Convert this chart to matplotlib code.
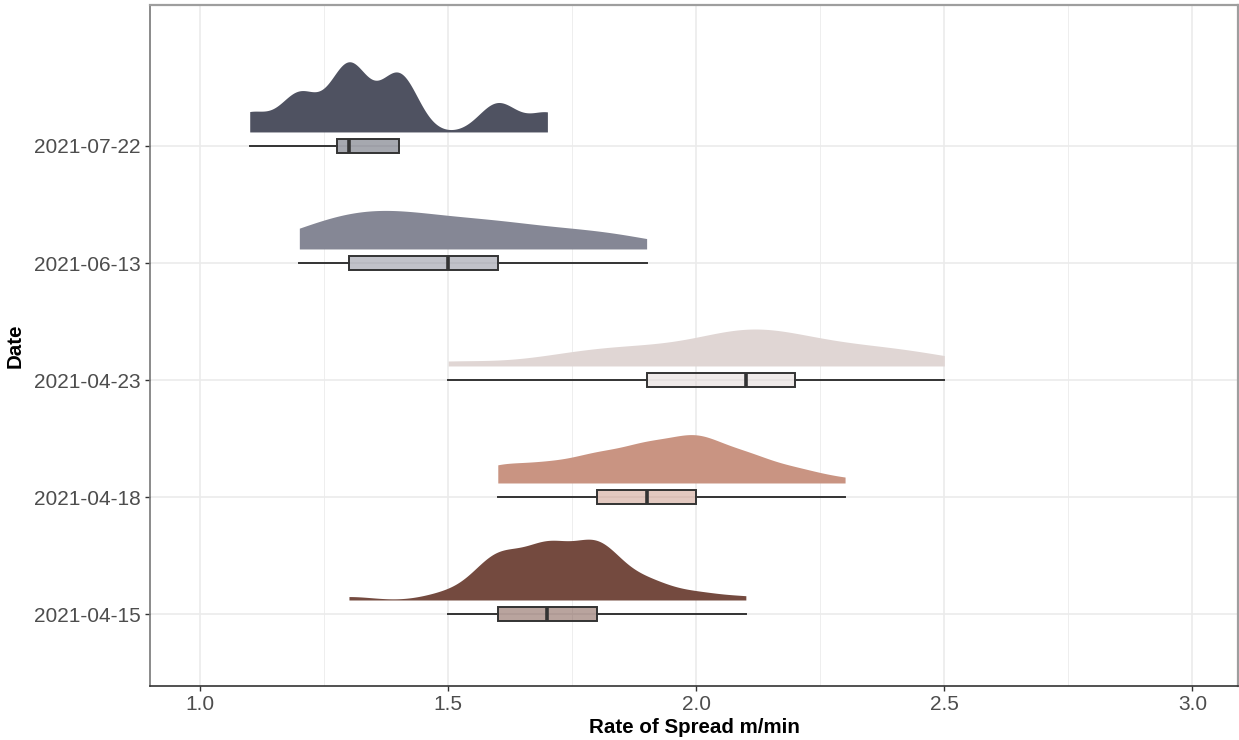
import numpy as np
import matplotlib
matplotlib.use("Agg")
import matplotlib.pyplot as plt
from matplotlib import cbook

# ---------------- data ----------------
dates = ["2021-04-15", "2021-04-18", "2021-04-23", "2021-06-13", "2021-07-22"]

# observed rate-of-spread values (m/min) and how many times each occurs
vals_0415 = [1.3, 1.5, 1.6, 1.7, 1.8, 1.9, 2.0, 2.1]
cnt_0415 = [1, 2, 12, 14, 15, 5, 2, 1]

vals_0418 = [1.6, 1.7, 1.8, 1.9, 2.0, 2.1, 2.2, 2.3]
cnt_0418 = [4, 4, 6, 8, 10, 6, 3, 1]

vals_0423 = [1.5, 1.7, 1.8, 1.9, 2.0, 2.1, 2.2, 2.3, 2.4, 2.5]
cnt_0423 = [1, 1, 2, 2, 2, 5, 3, 2, 2, 1]

vals_0613 = [1.2, 1.3, 1.4, 1.5, 1.6, 1.7, 1.8, 1.9]
cnt_0613 = [2, 4, 4, 3, 3, 2, 2, 1]

vals_0722 = [1.1, 1.2, 1.3, 1.4, 1.6, 1.7]
cnt_0722 = [2, 4, 7, 6, 3, 2]

colors = ["#744A3F", "#C99482", "#E0D6D4", "#858795", "#4F5261"]

x_ticks = [1.0, 1.5, 2.0, 2.5, 3.0]
x_label = "Rate of Spread m/min"
y_label = "Date"

groups = [
    np.repeat(vals_0415, cnt_0415),
    np.repeat(vals_0418, cnt_0418),
    np.repeat(vals_0423, cnt_0423),
    np.repeat(vals_0613, cnt_0613),
    np.repeat(vals_0722, cnt_0722),
]

# ---------------- helpers ----------------
def bw_nrd0(x):
    sd = np.std(x, ddof=1)
    q75, q25 = np.percentile(x, [75, 25])
    lo = min(sd, (q75 - q25) / 1.34)
    return 0.9 * lo * len(x) ** -0.2


def kde(x, grid, bw):
    z = (grid[:, None] - x[None, :]) / bw
    return np.exp(-0.5 * z ** 2).sum(axis=1) / (len(x) * bw * np.sqrt(2 * np.pi))


# ---------------- figure ----------------
plt.rcParams["font.family"] = ["Liberation Sans", "DejaVu Sans"]
fig = plt.figure(figsize=(12.39, 7.40), dpi=100)
ax = fig.add_axes([150 / 1239, 1 - 686 / 740, 1088 / 1239, 681 / 740])

bw_adjust = 0.85
dens_offset = 0.12
max_width = 0.6
box_width = 0.125

curves = []
for x in groups:
    grid = np.linspace(x.min(), x.max(), 512)
    d = kde(x, grid, bw_nrd0(x) * bw_adjust)
    curves.append((grid, d))
dmax = max(d.max() for _, d in curves)

for i, (x, (grid, d), col) in enumerate(zip(groups, curves, colors)):
    pos = i + 1
    base = pos + dens_offset
    ax.fill_between(grid, base, base + d / dmax * max_width, color=col,
                    linewidth=0, zorder=3)
    stats = cbook.boxplot_stats(x, whis=1.5)
    ax.bxp(stats, positions=[pos], widths=box_width, orientation="horizontal",
           showfliers=False, showcaps=False, patch_artist=True,
           boxprops=dict(facecolor=matplotlib.colors.to_rgba(col, 0.5),
                         edgecolor="#333333", linewidth=1.4),
           whiskerprops=dict(color="#333333", linewidth=1.4),
           medianprops=dict(color="#333333", linewidth=2.6),
           zorder=4)

ax.set_xlim(0.899, 3.092)
ax.set_ylim(0.385, 6.205)
ax.set_xticks(x_ticks)
ax.set_xticklabels([f"{t:.1f}" for t in x_ticks])
ax.set_xticks([1.25, 1.75, 2.25, 2.75], minor=True)
ax.set_yticks(range(1, len(dates) + 1))
ax.set_yticklabels(dates)

ax.grid(True, which="major", color="#EBEBEB", linewidth=1.2, zorder=0)
ax.grid(True, which="minor", axis="x", color="#EBEBEB", linewidth=0.6, zorder=0)
ax.set_axisbelow(True)

ax.tick_params(axis="both", which="major", length=3.5, width=1.0,
               color="#333333", labelcolor="#4D4D4D", labelsize=15, pad=3)
ax.tick_params(axis="both", which="minor", length=0)

ax.spines["top"].set_color("#9E9E9E")
ax.spines["top"].set_linewidth(1.6)
ax.spines["right"].set_color("#9E9E9E")
ax.spines["right"].set_linewidth(1.6)
ax.spines["left"].set_color("#777777")
ax.spines["left"].set_linewidth(1.2)
ax.spines["bottom"].set_color("#333333")
ax.spines["bottom"].set_linewidth(1.2)

ax.set_xlabel(x_label, fontsize=14.8, fontweight="bold", color="black", labelpad=3)
ax.set_ylabel(y_label, fontsize=14.8, fontweight="bold", color="black", labelpad=7)

fig.savefig("out.png", dpi=100)
